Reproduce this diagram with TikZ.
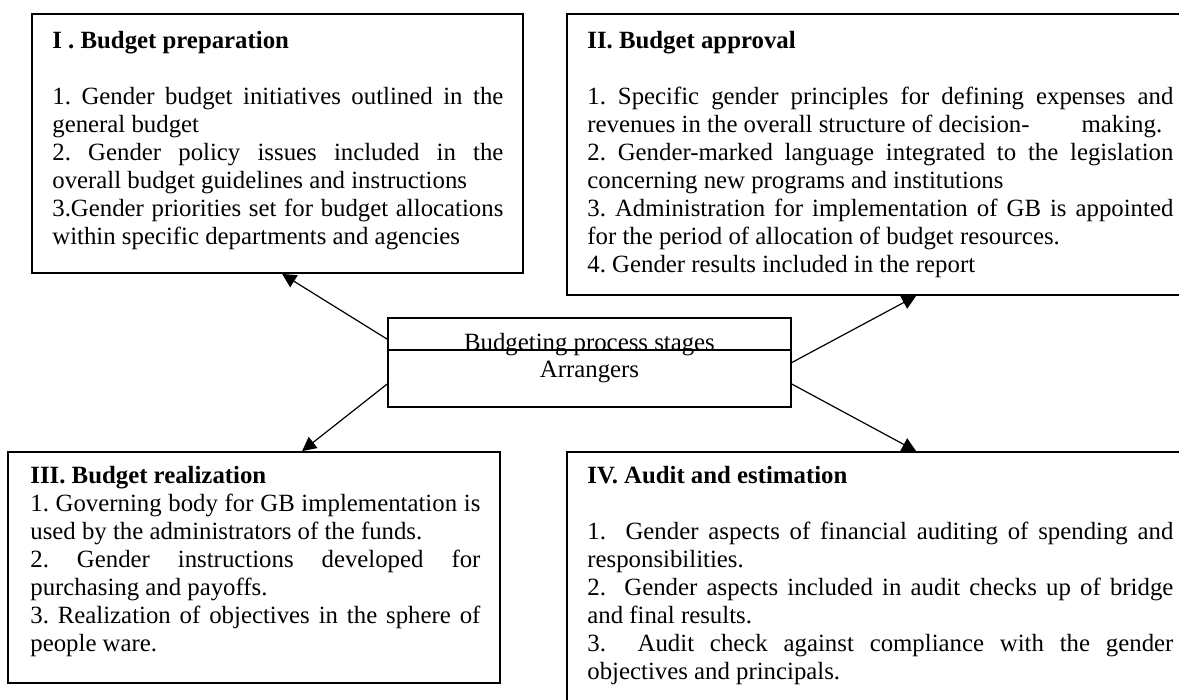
\documentclass[tikz,border=0pt]{standalone}
\usepackage{fontspec}
\setmainfont{Liberation Serif}
\usetikzlibrary{arrows.meta,calc,fit}

\begin{document}
\begin{tikzpicture}[x=0.5pt,y=-0.5pt,
  stagebox/.style={draw,line width=0.9pt,inner sep=0pt},
  stagetext/.style={anchor=north west,inner sep=0pt,align=justify,font=\fontsize{12.4}{14}\selectfont\frenchspacing},
  centertext/.style={anchor=base,inner sep=0pt,font=\fontsize{12.4}{14}\selectfont},
  arr/.style={line width=0.6pt,-{Triangle[length=7pt,width=7pt]}}]
  \useasboundingbox (0,0) rectangle (1179,700);
  \clip (0,0) rectangle (1179,700);

  % I. Budget preparation
  \node[stagebox,fit={(32,14) (523,273)}] (prep) {};
  \node[stagetext,text width=225.5pt] (prepText) at (52,28.4) {\strut\textbf{I . Budget preparation}\\[14pt]
    1. Gender budget initiatives outlined in the\linebreak general budget\\
    2. Gender policy issues included in the\linebreak overall budget guidelines and instructions\\
    3.Gender priorities set for budget allocations\linebreak within specific departments and agencies};

  % II. Budget approval
  \node[stagebox,fit={(567,14) (1195,295)}] (approval) {};
  \node[stagetext,text width=293pt] (approvalText) at (587,28.4) {\strut\textbf{II. Budget approval}\\[14pt]
    1. Specific gender principles for defining expenses and\linebreak revenues in the overall structure of decision-\hspace{2.1em}making.\\
    2. Gender-marked language integrated to the legislation\linebreak concerning new programs and institutions\\
    3. Administration for implementation of GB is appointed\linebreak for the period of allocation of budget resources.\\
    4. Gender results included in the report};

  % Centre box
  \node[stagebox,fit={(388,318) (791,407)}] (stages) {};
  \draw[line width=0.9pt] ($(stages.north west)+(0,33)$) -- ($(stages.north east)+(0,33)$);
  \node[centertext] (stagesTitle) at (589.5,351) {Budgeting process stages};
  \node[centertext] (arrangers) at (589.5,378) {Arrangers};

  % III. Budget realization
  \node[stagebox,fit={(8,452) (500,683)}] (realization) {};
  \node[stagetext,text width=225pt] (realizationText) at (30,463.4) {\strut\textbf{III. Budget realization}\\
    1. Governing body for GB implementation is\linebreak used by the administrators of the funds.\\
    2. Gender instructions developed for\linebreak purchasing and payoffs.\\
    3. Realization of objectives in the sphere of\linebreak people ware.};

  % IV. Audit and estimation
  \node[stagebox,fit={(567,452) (1195,712)}] (audit) {};
  \node[stagetext,text width=293pt] (auditText) at (587,463.4) {\strut\textbf{IV. Audit and estimation}\\[14pt]
    1.\ \ Gender aspects of financial auditing of spending and\linebreak responsibilities.\\
    2.\ \ Gender aspects included in audit checks up of bridge\linebreak and final results.\\
    3.\ \ Audit check against compliance with the gender\linebreak objectives and principals.};

  % Arrows to the stages
  \draw[arr] ($(stages.north west)+(0,22)$) -- ($(prep.south west)+(251,0)$);
  \draw[arr] ($(stages.north west)+(0,67)$) -- ($(realization.north west)+(295,0)$);
  \draw[arr] (stages.east) -- ($(approval.south west)+(350,0)$);
  \draw[arr] ($(stages.north east)+(0,67)$) -- ($(audit.north west)+(350,0)$);
\end{tikzpicture}
\end{document}
